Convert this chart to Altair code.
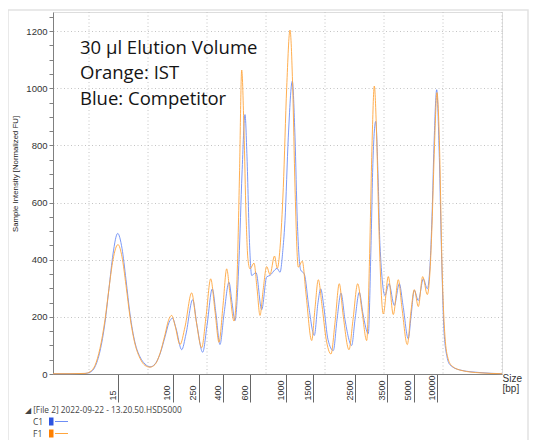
import altair as alt
import pandas as pd

# Migration position (x, arbitrary run units) and intensity (normalized FU)
blue_x = [53, 70, 85, 90, 95, 100, 105, 109, 113, 117.7, 122, 126, 130, 135, 140, 145, 150, 155, 160, 165,
          169, 172.5, 176, 181.7, 186, 192.7, 197, 202.7, 207, 212.3, 216, 220, 224, 229, 232, 235, 239, 242,
          245, 247, 249.5, 251.7, 256, 261.7, 266.7, 270, 275, 277, 280, 283, 285, 288.3, 292.3, 295, 297.3,
          300.7, 304.3, 309, 314.3, 318, 320.7, 324, 328, 333.3, 337, 341, 345, 351.7, 355, 359.3, 363, 368.3,
          371, 373, 375.7, 378, 380, 385, 389, 394.3, 399.3, 403, 408.3, 411, 414.3, 418.3, 423.3, 427.3, 430,
          432, 434, 436.7, 439, 441.7, 444, 447, 450, 460, 480, 502]
blue_y = [1, 1, 2, 6, 25, 80, 180, 300, 420, 492, 440, 330, 210, 110, 60, 35, 25, 35, 70, 130,
          180, 195, 160, 85, 140, 260, 170, 76, 170, 298, 210, 103, 210, 321, 250, 187, 400, 700,
          908, 760, 460, 345, 355, 225, 340, 345, 365, 370, 356, 440, 537, 829, 1025, 829, 537,
          364, 350, 230, 135, 250, 298, 230, 120, 82, 190, 283, 190, 100, 190, 286, 210, 141,
          450, 750, 884, 700, 450, 275, 316, 240, 316, 240, 123, 200, 293, 257, 333, 298, 380,
          550, 800, 995, 800, 400, 150, 60, 32, 14, 5, 1]

orange_x = [53, 70, 85, 90, 95, 100, 105, 109, 113, 118, 122, 126, 130, 135, 140, 145, 150, 155, 160, 165,
            168.5, 171.7, 175, 180, 185, 191.7, 196, 201.7, 206, 210.7, 215, 219, 223, 226.7, 230, 234, 237,
            239.5, 241.7, 244, 246, 248, 250, 254, 257, 260, 263, 266.7, 270, 274.5, 277.3, 280, 283.3, 286.7,
            290, 292.7, 295, 298.3, 302.3, 306, 311.7, 315, 318.3, 322, 326, 331, 335, 339.3, 343, 349, 353,
            357.7, 362, 366.7, 369.5, 372, 374.3, 376.5, 379, 383.3, 388.3, 393.3, 398.3, 402, 407.3, 411,
            414.3, 418.3, 422.7, 427.3, 430, 432, 434.5, 437, 439.5, 442, 445, 448, 452, 462, 480, 502]
orange_y = [1, 1, 2, 8, 30, 90, 190, 300, 400, 453, 410, 310, 200, 105, 55, 30, 24, 33, 72, 138,
            188, 205, 170, 103, 165, 284, 190, 92, 200, 333, 220, 111, 240, 368, 280, 185, 330,
            700, 1064, 850, 560, 400, 368, 388, 300, 205, 290, 376, 348, 413, 370, 440, 653, 1003,
            1204, 1003, 654, 374, 395, 280, 117, 230, 330, 240, 125, 70, 180, 316, 210, 85, 190,
            316, 220, 117, 400, 800, 1008, 850, 500, 210, 341, 208, 330, 230, 103, 220,
            295, 236, 341, 278, 360, 520, 800, 985, 800, 380, 130, 55, 28, 12, 4, 1]

ladder_pos = [118, 172.5, 198.5, 223.3, 250, 286, 313.3, 355, 387.3, 413.5, 437]
ladder_labels = ["15", "100", "250", "400", "600", "1000", "1500", "2500", "3500", "5000", "10000"]
grid_pos = [89, 148, 207, 266, 325, 384, 443, 502]
y_ticks = list(range(0, 1251, 50))

annotation = ["30 µl Elution Volume\nOrange: IST\nBlue: Competitor"]
file_label = "◢ [File 2] 2022-09-22 - 13.20.50.HSD5000"
series_names = ["C1", "F1"]
series_colors = ["#6e8ef5", "#ffa53d"]
legend_box_colors = ["#2f55e0", "#ff8000"]

df = pd.concat([
    pd.DataFrame({"x": blue_x, "y": blue_y, "s": "C1"}),
    pd.DataFrame({"x": orange_x, "y": orange_y, "s": "F1"}),
])

XMIN, XMAX, YMAX = 53, 502, 1267
W, H = 449, 362
FONT = "Liberation Sans"

label_expr = "[" + ",".join("'%s'" % l for l in ladder_labels) + "][indexof([" + \
    ",".join(str(p) for p in ladder_pos) + "], datum.value)]"

xscale = alt.Scale(domain=[XMIN, XMAX], nice=False, zero=False)
yscale = alt.Scale(domain=[0, YMAX], nice=False, zero=True)

xaxis = alt.Axis(values=ladder_pos, labelExpr=label_expr, labelAngle=270, labelAlign="left",
                 labelBaseline="bottom", tickSize=28, labelPadding=-2, labelOffset=-1,
                 labelFontSize=9, labelFont=FONT, labelColor="#333333", labelOverlap=False,
                 labelFlush=False, labelBound=False, grid=False, domainColor="#808080",
                 tickColor="#666666", title=["Size", "[bp]"], titleX=W, titleY=-1,
                 titleAlign="left", titleBaseline="top", titleFontSize=10, titleFont=FONT,
                 titleFontWeight="normal", titleColor="#333333", titleLineHeight=10.5)

yaxis = alt.Axis(values=y_ticks, format="d",
                 labelExpr="datum.value % 200 === 0 ? datum.label : ''",
                 grid=True,
                 gridOpacity={"condition": {"test": "datum.value % 200 === 0 && datum.value > 0", "value": 1}, "value": 0},
                 gridDash=[1, 2.5], gridColor="#c4c4c4", tickSize=4, tickColor="#808080",
                 domainColor="#808080", labelPadding=2, labelFontSize=9.5, labelFont=FONT,
                 labelColor="#333333", labelOverlap=False, labelFlush=False,
                 title="Sample Intensity [Normalized FU]", titleFontSize=7.8, titleFont=FONT,
                 titleFontWeight="normal", titleColor="#222222", titleX=-38, titleY=161.5,
                 titleAngle=270, titleAlign="center", titleBaseline="middle")

one = pd.DataFrame({"k": [0]})

frame = alt.Chart(one).mark_rect(filled=False, stroke="#e2e2e2", strokeWidth=1.5).encode(
    x=alt.value(-45), x2=alt.value(475), y=alt.value(-2), y2=alt.value(460))

vgrid = alt.Chart(pd.DataFrame({"x": grid_pos})).mark_rule(
    color="#c4c4c4", strokeDash=[1, 2.5], strokeWidth=1).encode(
    x=alt.X("x:Q", scale=xscale, axis=xaxis))

lines = alt.Chart(df).mark_line(strokeWidth=1, opacity=0.9, interpolate="monotone").encode(
    x=alt.X("x:Q", scale=xscale, axis=xaxis),
    y=alt.Y("y:Q", scale=yscale, axis=yaxis),
    color=alt.Color("s:N", scale=alt.Scale(domain=series_names, range=series_colors), legend=None),
    order=alt.Order("x:Q"),
)

ann = alt.Chart(pd.DataFrame({"t": annotation})).mark_text(
    align="left", baseline="alphabetic", fontSize=18.5, font="Open Sans", lineHeight=25.5,
    lineBreak="\n", color="#141414").encode(
    x=alt.value(27), y=alt.value(41.5), text="t:N")

hdr = alt.Chart(pd.DataFrame({"t": [file_label]})).mark_text(
    align="left", baseline="middle", fontSize=8.3, font="Open Sans", color="#444444").encode(
    x=alt.value(-28), y=alt.value(398.5), text="t:N")

legend_layers = []
for i, (name, lc, bc) in enumerate(zip(series_names, series_colors, legend_box_colors)):
    yy = 409.5 + 12 * i
    legend_layers.append(alt.Chart(pd.DataFrame({"t": [name]})).mark_text(
        align="left", baseline="middle", fontSize=8.5, font="Open Sans", color="#444444").encode(
        x=alt.value(-20), y=alt.value(yy), text="t:N"))
    legend_layers.append(alt.Chart(one).mark_rect(color=bc).encode(
        x=alt.value(-4), x2=alt.value(0.5), y=alt.value(yy - 4), y2=alt.value(yy + 4)))
    legend_layers.append(alt.Chart(one).mark_rule(color=lc, strokeWidth=1).encode(
        x=alt.value(2), x2=alt.value(15), y=alt.value(yy)))

chart = alt.layer(frame, vgrid, lines, ann, hdr, *legend_layers).properties(
    width=W, height=H,
    padding={"left": 45, "top": 4, "right": 27, "bottom": 66},
    autosize=alt.AutoSizeParams(type="none"),
).configure_view(stroke=None).configure(background="white")

chart.save("out.html", embed_options={"renderer": "svg", "actions": False})
